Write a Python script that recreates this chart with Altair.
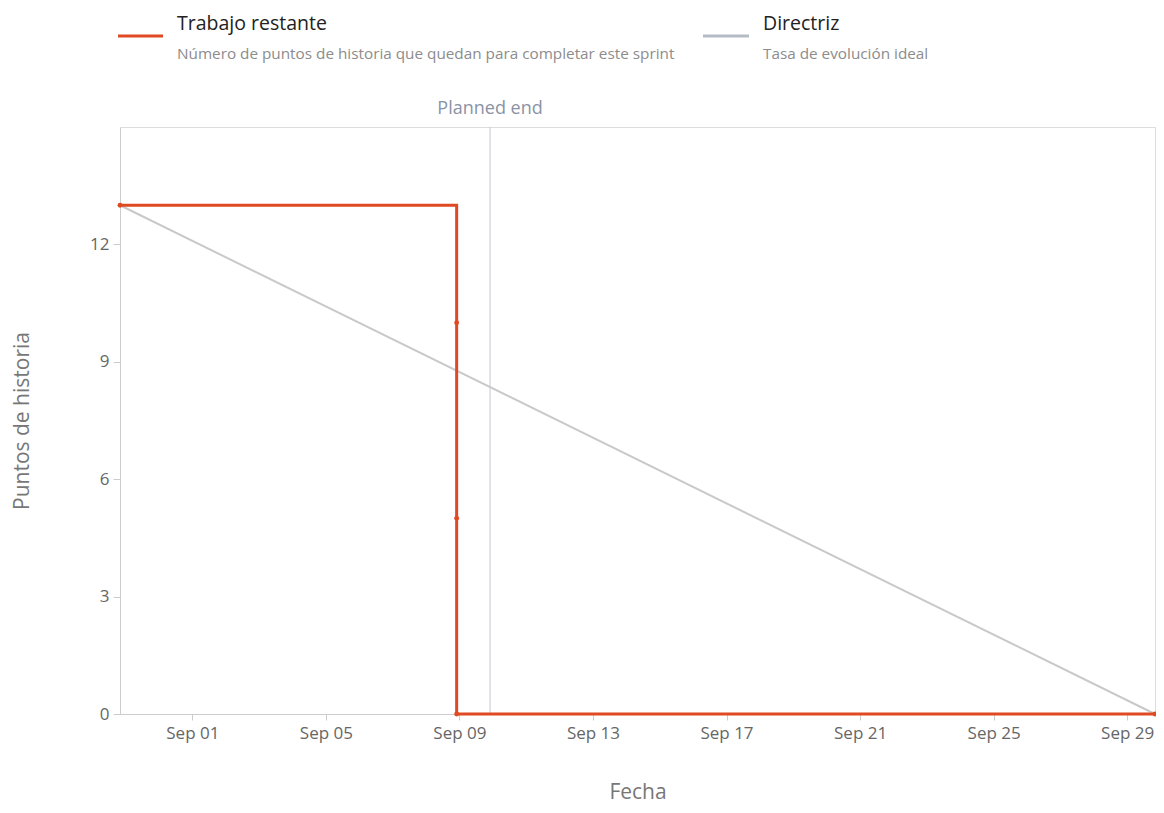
import altair as alt
import pandas as pd

# Remaining work (step series)
work_dates = ["2023-08-29T20:00:00", "2023-09-08T22:00:00", "2023-09-08T22:00:00",
              "2023-09-08T22:00:00", "2023-09-29T20:00:00"]
work_values = [13, 10, 5, 0, 0]

# Ideal guide line
guide_dates = ["2023-08-29T20:00:00", "2023-09-29T20:00:00"]
guide_values = [13, 0]

# Planned end marker
planned_end = ["2023-09-09T22:00:00"]
planned_label = ["Planned end"]

tick_days = [1, 5, 9, 13, 17, 21, 25, 29]

RED = "#e04a22"
GRAY = "#c9c9c9"
FONT = "Open Sans"

work = pd.DataFrame({"Fecha": work_dates, "Puntos": work_values})
guide = pd.DataFrame({"Fecha": guide_dates, "Puntos": guide_values})
plan = pd.DataFrame({"Fecha": planned_end, "label": planned_label})

x_scale = alt.Scale(domain=[guide_dates[0], guide_dates[-1]], nice=False)
y_scale = alt.Scale(domain=[0, 15], nice=False)

x_enc = alt.X("Fecha:T", scale=x_scale, title="Fecha",
              axis=alt.Axis(values=[alt.DateTime(year=2023, month=9, date=d) for d in tick_days],
                            format="%b %d", grid=False, labelFontSize=17, labelColor="#666666",
                            labelPadding=5, tickSize=6, tickColor="#cccccc", domainColor="#cccccc",
                            titleFontSize=21, titleFontWeight="normal", titleColor="#777777",
                            titlePadding=40, labelFont=FONT, titleFont=FONT))
y_enc = alt.Y("Puntos:Q", scale=y_scale, title="Puntos de historia",
              axis=alt.Axis(values=[0, 3, 6, 9, 12], grid=False, labelFontSize=17,
                            labelColor="#666666", tickSize=7, tickColor="#cccccc",
                            domainColor="#cccccc", labelPadding=4,
                            titleFontSize=21, titleFontWeight="normal", titleColor="#777777",
                            titlePadding=57, labelFont=FONT, titleFont=FONT))

guide_line = alt.Chart(guide).mark_line(color=GRAY, strokeWidth=2).encode(x=x_enc, y=y_enc)

plan_rule = alt.Chart(plan).mark_rule(color="#c3c8d6", strokeWidth=1).encode(x="Fecha:T")
plan_text = alt.Chart(plan).mark_text(color="#8a93a5", fontSize=18, font=FONT, baseline="bottom",
                                      dy=-9).encode(x="Fecha:T", y=alt.value(0), text="label:N")

work_line = alt.Chart(work).mark_line(color=RED, strokeWidth=3, interpolate="step-after").encode(x="Fecha:T", y="Puntos:Q")
work_pts = alt.Chart(work).mark_circle(color=RED, size=24, opacity=1).encode(x="Fecha:T", y="Puntos:Q")

# Custom legend
leg = pd.DataFrame({"x": [0]})
legend_red = alt.Chart(leg).mark_rule(color=RED, strokeWidth=3).encode(
    x=alt.value(-2), x2=alt.value(43), y=alt.value(-91))
legend_gray = alt.Chart(leg).mark_rule(color="#b6bcc6", strokeWidth=3).encode(
    x=alt.value(583), x2=alt.value(629), y=alt.value(-91))
t1 = alt.Chart(leg).mark_text(text="Trabajo restante", align="left", baseline="alphabetic",
                              fontSize=19.5, font=FONT, color="#222222").encode(
    x=alt.value(57), y=alt.value(-97))
s1 = alt.Chart(leg).mark_text(text="Número de puntos de historia que quedan para completar este sprint",
                              align="left", baseline="middle", fontSize=15.3, font=FONT,
                              color="#8c8c8c").encode(x=alt.value(57), y=alt.value(-73))
t2 = alt.Chart(leg).mark_text(text="Directriz", align="left", baseline="alphabetic",
                              fontSize=19.5, font=FONT, color="#222222").encode(
    x=alt.value(643), y=alt.value(-97))
s2 = alt.Chart(leg).mark_text(text="Tasa de evolución ideal", align="left", baseline="middle",
                              fontSize=15.3, font=FONT, color="#8c8c8c").encode(
    x=alt.value(643), y=alt.value(-73))

chart = alt.layer(guide_line, plan_rule, plan_text, work_line, work_pts,
                  legend_red, legend_gray, t1, s1, t2, s2).properties(
    width=1035, height=587,
    autosize=alt.AutoSizeParams(type="none"),
    padding={"left": 112, "top": 119, "right": 1, "bottom": 91},
).configure_view(stroke="#dcdce2", strokeWidth=2).configure(background="white")

chart.save("out.html", embed_options={"renderer": "svg", "actions": False})
